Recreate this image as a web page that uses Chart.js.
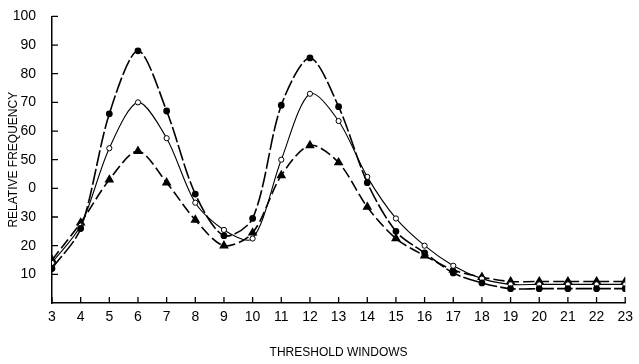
<!DOCTYPE html>
<html>
<head>
<meta charset="utf-8">
<script src="https://cdn.jsdelivr.net/npm/chart.js@4/dist/chart.umd.min.js"></script>
<style>
html,body{margin:0;padding:0;background:#fff;}
#wrap{width:639px;height:364px;position:relative;}
</style>
</head>
<body>
<div id="wrap"><canvas id="c" width="639" height="364"></canvas></div>
<script>
const windows = [3,4,5,6,7,8,9,10,11,12,13,14,15,16,17,18,19,20,21,22,23];
const filledSeries = [12,26,66,88,67,38,23.5,29.5,69,85.5,68.5,42,25,17.5,10.5,7,5,5,5,5,5];
const openSeries   = [14,27,54,70,57.5,35,25.5,22.5,50,73,63.5,44,29.5,20,13,8.5,6.5,6.5,6.5,6.5,6.5];
const triSeries    = [15,28,43,53,42,29,20,24.5,44.5,55,49,33.5,22.5,16.5,11.5,9,7.5,7.5,7.5,7.5,7.5];
const yTickValues = [10,20,30,40,50,60,70,80,90,100];
const yTickLabels = ["10","20","30","0","50","60","70","80","90","100"];

const FONT = "'Liberation Sans', Arial, sans-serif";
function pts(arr){ return windows.map((x,i)=>({x:x,y:arr[i]})); }

const insideTicks = {
  id:'insideTicks',
  afterDraw(chart){
    const ctx = chart.ctx, xs = chart.scales.x, ys = chart.scales.y;
    ctx.save();
    ctx.strokeStyle='#000'; ctx.lineWidth=1.3;
    ctx.beginPath();
    windows.forEach(v=>{ const px=xs.getPixelForValue(v); ctx.moveTo(px,ys.bottom); ctx.lineTo(px,ys.bottom-6); });
    yTickValues.forEach(v=>{ const py=ys.getPixelForValue(v); ctx.moveTo(xs.left,py); ctx.lineTo(xs.left+6,py); });
    ctx.stroke();
    ctx.restore();
  }
};

new Chart(document.getElementById('c'), {
  type:'line',
  data:{
    datasets:[
      {data:pts(filledSeries), borderColor:'#000', borderWidth:1.6, borderDash:[16,3], pointStyle:'circle', pointRadius:2.6, pointBackgroundColor:'#000', pointBorderColor:'#000', tension:0.3},
      {data:pts(openSeries), borderColor:'#000', borderWidth:1.1, pointStyle:'circle', pointRadius:2.6, pointBackgroundColor:'#fff', pointBorderColor:'#000', pointBorderWidth:1, tension:0.3},
      {data:pts(triSeries), borderColor:'#000', borderWidth:1.6, borderDash:[11,4], pointStyle:'triangle', pointRadius:4, pointBackgroundColor:'#000', pointBorderColor:'#000', tension:0.3}
    ]
  },
  options:{
    responsive:false, animation:false,
    layout:{padding:{top:14,right:11,left:0,bottom:0}},
    plugins:{legend:{display:false},tooltip:{enabled:false}},
    scales:{
      x:{type:'linear', min:3, max:23,
        afterBuildTicks(s){ s.ticks = windows.map(v=>({value:v})); },
        afterFit(s){ s.height = 61; },
        border:{display:true,color:'#000',width:1.5},
        grid:{display:false, drawTicks:false, tickLength:0},
        ticks:{color:'#000', font:{family:FONT,size:14}, padding:6, maxRotation:0, autoSkip:false},
        title:{display:true,text:'THRESHOLD WINDOWS',color:'#000',font:{family:FONT,size:12},padding:{top:14,bottom:4}}
      },
      y:{min:0,max:100,
        afterBuildTicks(s){ s.ticks = yTickValues.map(v=>({value:v})); },
        afterFit(s){ s.width = 52; },
        border:{display:true,color:'#000',width:1.5},
        grid:{display:false},
        ticks:{color:'#000', font:{family:FONT,size:14}, padding:8, callback:(v)=>{const i=yTickValues.indexOf(v); return i>=0?yTickLabels[i]:'';}},
        title:{display:true,text:'RELATIVE FREQUENCY',color:'#000',font:{family:FONT,size:12},padding:{top:6,bottom:0}}
      }
    }
  },
  plugins:[insideTicks]
});
</script>
</body>
</html>
